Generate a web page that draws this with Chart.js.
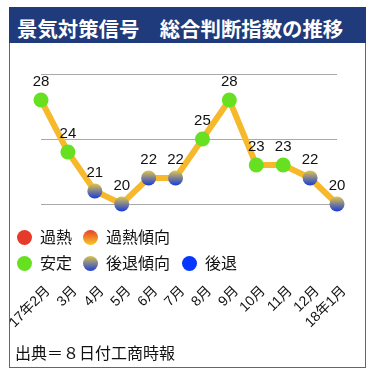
<!DOCTYPE html>
<html>
<head>
<meta charset="utf-8">
<script src="https://cdn.jsdelivr.net/npm/chart.js@4"></script>
<style>
  html, body { margin: 0; padding: 0; background: #fff; }
  body { width: 379px; height: 371px; position: relative; overflow: hidden;
         font-family: "Liberation Sans", "Noto Sans CJK JP", sans-serif; }
  #frame { position: absolute; left: 9px; top: 7px; width: 355px; height: 359px;
           border: 1px solid #56668e; }
  #title { position: absolute; left: 9px; top: 7px; width: 357px; height: 36px;
           background: #1f3b7c; color: #fff; font: bold 20.4px "Noto Sans CJK JP", sans-serif;
           line-height: 43px; padding-left: 8px; box-sizing: border-box; white-space: pre; overflow: hidden; }
  #chart { position: absolute; left: 0; top: 0; }
  .lg { position: absolute; font-size: 16px; line-height: 16px; color: #111; white-space: nowrap; }
  .lg i { position: absolute; left: -23px; top: 0; width: 15px; height: 15px; border-radius: 50%; }
  #source { position: absolute; left: 15px; top: 344px; font-size: 16px; line-height: 20px; color: #111; }
</style>
</head>
<body>
<div id="frame"></div>
<div id="title"></div>
<canvas id="chart" width="379" height="371"></canvas>
<div id="legend"></div>
<div id="source"></div>
<script>
    // 景気対策信号 総合判断指数（17年2月～18年1月）
    const months = ['17年2月', '3月', '4月', '5月', '6月', '7月', '8月', '9月', '10月', '11月', '12月', '18年1月'];
    const scores = [28, 24, 21, 20, 22, 22, 25, 28, 23, 23, 22, 20];
    const signals = ['安定', '安定', '後退傾向', '後退傾向', '後退傾向', '後退傾向',
                     '安定', '安定', '安定', '安定', '後退傾向', '後退傾向'];
    const legendLabels = ['過熱', '過熱傾向', '安定', '後退傾向', '後退'];
    const yTicks = [20, 25, 30];

    const titleText = '景気対策信号　総合判断指数の推移';
    const sourceText = '出典＝８日付工商時報';

    // 信号の色（上→下のグラデーション）
    const signalColors = {
        '過熱': ['#e63b2b', '#e63b2b'],
        '過熱傾向': ['#e8402c', '#f7c825'],
        '安定': ['#66e020', '#66e020'],
        '後退傾向': ['#d9c24e', '#1f3fd8'],
        '後退': ['#0636ff', '#0636ff']
    };

    document.getElementById('title').textContent = titleText;
    document.getElementById('source').textContent = sourceText;

    // 凡例
    const legendPos = [[40, 230], [106, 230], [40, 256], [106, 256], [205, 256]];
    const legendBox = document.getElementById('legend');
    legendLabels.forEach(function(name, i) {
        const c = signalColors[name];
        const d = document.createElement('div');
        d.className = 'lg';
        d.style.left = legendPos[i][0] + 'px';
        d.style.top = legendPos[i][1] + 'px';
        d.innerHTML = '<i style="background:linear-gradient(' + c[0] + ',' + c[1] + ')"></i>' + name;
        legendBox.appendChild(d);
    });

    function pointFill(context) {
        const c = signalColors[signals[context.dataIndex]];
        if (c[0] === c[1]) return c[0];
        const chart = context.chart;
        const y = chart.scales.y ? chart.scales.y.getPixelForValue(context.raw) : NaN;
        if (!isFinite(y)) return c[1];
        const g = chart.ctx.createLinearGradient(0, y - 7, 0, y + 7);
        g.addColorStop(0, c[0]);
        g.addColorStop(1, c[1]);
        return g;
    }

    // 数値ラベル
    const valueLabels = {
        id: 'valueLabels',
        afterDatasetsDraw(chart) {
            const ctx = chart.ctx;
            const meta = chart.getDatasetMeta(0);
            ctx.save();
            ctx.font = '15px "Liberation Sans", "Noto Sans CJK JP", sans-serif';
            ctx.fillStyle = '#111';
            ctx.textAlign = 'center';
            ctx.textBaseline = 'middle';
            meta.data.forEach(function(pt, i) {
                ctx.fillText(String(scores[i]), pt.x, pt.y - 18);
            });
            ctx.restore();
        }
    };

    const ctx = document.getElementById('chart').getContext('2d');
    const chart = new Chart(ctx, {
        type: 'line',
        data: {
            labels: months,
            datasets: [{
                data: scores,
                borderColor: '#f6b92b',
                borderWidth: 6,
                tension: 0,
                pointRadius: 7.5,
                pointHoverRadius: 7.5,
                pointBorderWidth: 0,
                pointBackgroundColor: pointFill,
                clip: false
            }]
        },
        options: {
            responsive: false,
            animation: false,
            layout: { padding: { top: 74, left: 41, right: 42, bottom: 37 } },
            plugins: {
                legend: { display: false },
                tooltip: { enabled: false }
            },
            scales: {
                x: {
                    offset: false,
                    grid: { display: false, drawTicks: false },
                    border: { display: false },
                    ticks: {
                        autoSkip: false,
                        minRotation: 45,
                        maxRotation: 45,
                        padding: 79,
                        labelOffset: 7,
                        color: '#111',
                        font: { size: 14, family: '"Liberation Sans", "Noto Sans CJK JP", sans-serif' }
                    },
                    afterFit: function(scale) {
                        scale.height = 130;
                        scale.paddingLeft = 0;
                        scale.paddingRight = 0;
                    }
                },
                y: {
                    min: yTicks[0],
                    max: yTicks[yTicks.length - 1],
                    afterBuildTicks: function(scale) {
                        scale.ticks = yTicks.map(function(v) { return { value: v }; });
                    },
                    grid: { color: '#a9a9a9', lineWidth: 1, drawTicks: false },
                    border: { display: false },
                    ticks: { display: false }
                }
            }
        },
        plugins: [valueLabels]
    });
</script>
</body>
</html>
